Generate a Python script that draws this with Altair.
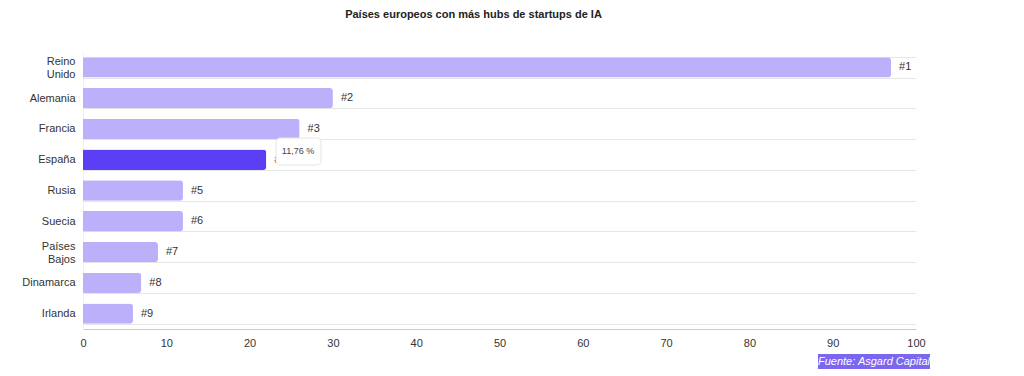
import altair as alt
import pandas as pd

paises = ["Reino Unido", "Alemania", "Francia", "España", "Rusia", "Suecia",
          "Países Bajos", "Dinamarca", "Irlanda"]
valores = [97, 30, 26, 22, 12, 12, 9, 7, 6]
rangos = ["#1", "#2", "#3", "#4", "#5", "#6", "#7", "#8", "#9"]
x_ticks = [0, 10, 20, 30, 40, 50, 60, 70, 80, 90, 100]

df = pd.DataFrame({"pais": paises, "valor": valores, "rango": rangos})

LIGHT = "#bcb0fb"
DARK = "#5a3ff5"
FONT = "Liberation Sans"

y_enc = alt.Y(
    "pais:N", sort=paises, title=None,
    scale=alt.Scale(paddingInner=0.34, paddingOuter=0.17),
    axis=alt.Axis(
        labelExpr="split(datum.label, ' ')", labelFontSize=11, labelColor="#333333",
        labelFont=FONT, labelPadding=8, ticks=False, domain=True, domainColor="#f0f0f0",
        grid=True, gridColor="#e6e6e6", tickBand="extent", labelLineHeight=13,
        labelOffset={"condition": {"test": "indexof(datum.label, ' ') >= 0", "value": -6},
                     "value": 0},
    ),
)

base = alt.Chart(df)

bars = base.mark_bar(cornerRadiusEnd=3).encode(
    x=alt.X("valor:Q", title=None,
            scale=alt.Scale(domain=[0, 100], nice=False),
            axis=alt.Axis(values=x_ticks, labelFontSize=11, labelColor="#333333",
                          labelFont=FONT, ticks=False, grid=False, domainColor="#cccccc",
                          labelPadding=8, labelFlush=False)),
    y=y_enc,
    color=alt.condition(alt.datum.pais == "España", alt.value(DARK), alt.value(LIGHT)),
)

labels = base.mark_text(align="left", baseline="middle", dx=8, fontSize=11,
                        font=FONT, color="#333333").encode(
    x="valor:Q", y=alt.Y("pais:N", sort=paises), text="rango:N")

tip_df = pd.DataFrame({"t": ["11,76 %"]})
tip_box = alt.Chart(tip_df).mark_rect(
    fill="white", stroke="#e4e4e4", strokeWidth=1, cornerRadius=4,
).encode(x=alt.value(193), x2=alt.value(238), y=alt.value(86), y2=alt.value(113))
tip_text = alt.Chart(tip_df).mark_text(fontSize=9, font=FONT, color="#444444").encode(
    x=alt.value(215), y=alt.value(99), text="t:N")

src_df = pd.DataFrame({"t": ["Fuente: Asgard Capital"]})
src_box = alt.Chart(src_df).mark_rect(fill="#7b66f0").encode(
    x=alt.value(735), x2=alt.value(847), y=alt.value(302), y2=alt.value(317))
src_text = alt.Chart(src_df).mark_text(fontSize=11, font=FONT, fontStyle="italic",
                                       color="white").encode(
    x=alt.value(791), y=alt.value(310), text="t:N")

chart = alt.layer(bars, labels, tip_box, tip_text, src_box, src_text).properties(
    width=833, height=277,
    autosize=alt.AutoSizeParams(type="none"),
    padding={"left": 83, "top": 52, "right": 108, "bottom": 47},
    title=alt.TitleParams("Países europeos con más hubs de startups de IA",
                          fontSize=11, font=FONT, fontWeight="bold", color="#222222",
                          anchor="middle", dx=-26, offset=26),
).configure(background="white").configure_view(stroke=None)

chart.save("out.html", embed_options={"renderer": "svg", "actions": False})
